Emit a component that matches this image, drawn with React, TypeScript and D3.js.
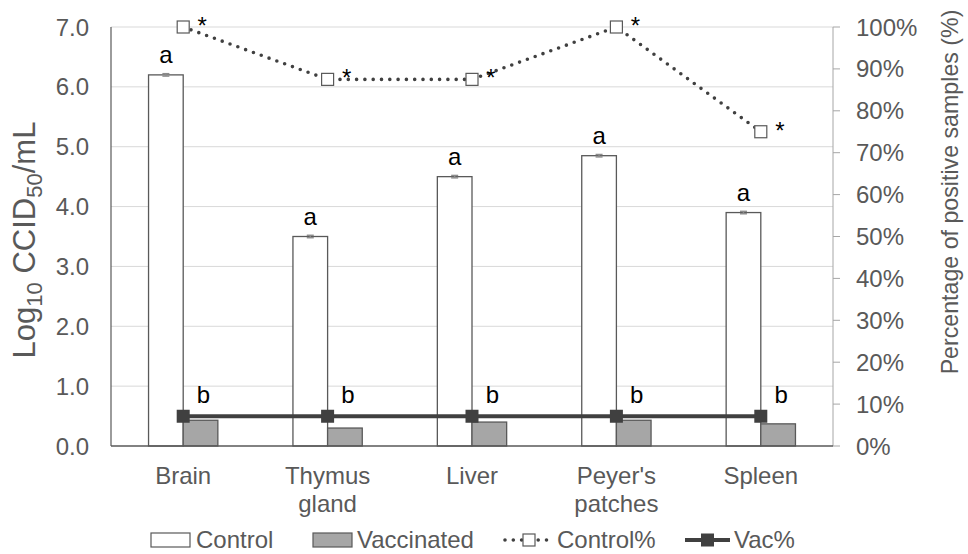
import React from "react";
import * as d3 from "d3";

const categories: string[][] = [["Brain"], ["Thymus", "gland"], ["Liver"], ["Peyer's", "patches"], ["Spleen"]];
const controlValues = [6.2, 3.5, 4.5, 4.85, 3.9];
const controlErrors = [0.02, 0.02, 0.02, 0.02, 0.02];
const vaccinatedValues = [0.43, 0.3, 0.4, 0.43, 0.37];
const controlPct = [100, 87.5, 87.5, 100, 75];
const vacPct = [7.1, 7.1, 7.1, 7.1, 7.1];
const leftTicks = [0, 1, 2, 3, 4, 5, 6, 7];
const rightTicks = [0, 10, 20, 30, 40, 50, 60, 70, 80, 90, 100];
const controlLetters = ["a", "a", "a", "a", "a"];
const vacLetters = ["b", "b", "b", "b", "b"];
const pctMarks = ["*", "*", "*", "*", "*"];
const seriesNames = ["Control", "Vaccinated"];

const W = 968;
const H = 554;
const L = 111;
const R = 833;
const T = 27;
const B = 446;
const FONT = "'Liberation Sans', Arial, sans-serif";
const GRAY = "#595959";

export default function App() {
  const keys = categories.map((c) => c.join(" "));
  const x = d3.scaleBand<string>().domain(keys).range([L, R]).paddingInner(0.52).paddingOuter(0.26);
  const xs = d3.scaleBand<string>().domain(seriesNames).range([0, x.bandwidth()]);
  const y = d3.scaleLinear().domain([0, 7]).range([B, T]);
  const yr = d3.scaleLinear().domain([0, 100]).range([B, T]);
  const cx = (i: number) => (x(keys[i]) as number) + x.bandwidth() / 2;
  const ctrlLine = d3.line<number>().x((_, i) => cx(i)).y((d) => yr(d))(controlPct) as string;
  const vacLine = d3.line<number>().x((_, i) => cx(i)).y((d) => yr(d))(vacPct) as string;
  const bw = xs.bandwidth();

  return (
    <svg width={W} height={H} style={{ position: "absolute", left: 0, top: 0, display: "block", background: "#fff" }} fontFamily={FONT}>
      {/* gridlines */}
      {leftTicks.slice(1).map((t) => (
        <line key={"g" + t} x1={L} x2={R} y1={y(t)} y2={y(t)} stroke="#d9d9d9" strokeWidth={1} />
      ))}
      {/* left tick labels */}
      {leftTicks.map((t) => (
        <text key={"lt" + t} x={89} y={y(t) + 8.5} textAnchor="end" fontSize={24} fill={GRAY}>
          {t.toFixed(1)}
        </text>
      ))}
      {/* right axis */}
      <line x1={R} x2={R} y1={T} y2={B} stroke="#a6a6a6" strokeWidth={1} />
      {rightTicks.map((t) => (
        <g key={"rt" + t}>
          <line x1={R} x2={R + 7} y1={yr(t)} y2={yr(t)} stroke="#a6a6a6" strokeWidth={1} />
          <text x={856} y={yr(t) + 8.5} textAnchor="start" fontSize={24} fill={GRAY}>
            {t + "%"}
          </text>
        </g>
      ))}
      {/* bars */}
      {controlValues.map((v, i) => {
        const x0 = (x(keys[i]) as number) + (xs("Control") as number);
        return (
          <g key={"c" + i}>
            <rect x={x0} y={y(v)} width={bw} height={B - y(v)} fill="#fff" stroke={GRAY} strokeWidth={1.3} />
            <g stroke="#8c8c8c" strokeWidth={1.5}>
              <line x1={x0 + bw / 2} x2={x0 + bw / 2} y1={y(v + controlErrors[i])} y2={y(v - controlErrors[i])} />
              <line x1={x0 + bw / 2 - 3.5} x2={x0 + bw / 2 + 3.5} y1={y(v + controlErrors[i])} y2={y(v + controlErrors[i])} />
              <line x1={x0 + bw / 2 - 3.5} x2={x0 + bw / 2 + 3.5} y1={y(v - controlErrors[i])} y2={y(v - controlErrors[i])} />
            </g>
            <text x={x0 + bw / 2} y={y(v) - 12} textAnchor="middle" fontSize={24} fill="#000">
              {controlLetters[i]}
            </text>
          </g>
        );
      })}
      {vaccinatedValues.map((v, i) => {
        const x0 = (x(keys[i]) as number) + (xs("Vaccinated") as number);
        return (
          <g key={"v" + i}>
            <rect x={x0} y={y(v)} width={bw} height={B - y(v)} fill="#a6a6a6" stroke={GRAY} strokeWidth={1.3} />
            <text x={x0 + bw / 2 + 3} y={y(0.72)} textAnchor="middle" fontSize={24} fill="#000">
              {vacLetters[i]}
            </text>
          </g>
        );
      })}
      {/* axis lines */}
      <line x1={L} x2={L} y1={T} y2={B} stroke={GRAY} strokeWidth={1.2} />
      <line x1={L} x2={R} y1={B} y2={B} stroke={GRAY} strokeWidth={1.3} />
      {/* control % line */}
      <path d={ctrlLine} fill="none" stroke="#404040" strokeWidth={3.6} strokeLinecap="round" strokeDasharray="0 8.3" />
      {controlPct.map((v, i) => (
        <g key={"cp" + i}>
          <rect x={cx(i) - 6} y={yr(v) - 6} width={12} height={12} fill="#fff" stroke={GRAY} strokeWidth={1.2} />
          <text x={cx(i) + 19} y={yr(v) + 7} textAnchor="middle" fontSize={24} fill="#000">
            {pctMarks[i]}
          </text>
        </g>
      ))}
      {/* vac % line */}
      <path d={vacLine} fill="none" stroke="#404040" strokeWidth={4} />
      {vacPct.map((v, i) => (
        <rect key={"vp" + i} x={cx(i) - 6.5} y={yr(v) - 6.5} width={13} height={13} fill="#404040" />
      ))}
      {/* category labels */}
      {categories.map((c, i) => (
        <text key={"cat" + i} x={cx(i)} y={484} textAnchor="middle" fontSize={24} fill={GRAY}>
          {c.map((s, j) => (
            <tspan key={j} x={cx(i)} dy={j === 0 ? 0 : 28}>
              {s}
            </tspan>
          ))}
        </text>
      ))}
      {/* axis titles */}
      <text transform={`translate(35,240) rotate(-90)`} textAnchor="middle" fontSize={31} fill={GRAY}>
        Log<tspan fontSize={22} dy={7}>10</tspan>
        <tspan dy={-7}> CCID</tspan>
        <tspan fontSize={22} dy={7}>50</tspan>
        <tspan dy={-7}>/mL</tspan>
      </text>
      <text transform="translate(958,192) rotate(-90)" textAnchor="middle" fontSize={23.2} fill={GRAY}>
        Percentage of positive samples (%)
      </text>
      {/* legend */}
      <g fontSize={24} fill={GRAY}>
        <rect x={151} y={533} width={39} height={14} fill="#fff" stroke={GRAY} strokeWidth={1.2} />
        <text x={196} y={548}>Control</text>
        <rect x={313} y={533} width={39} height={14} fill="#a6a6a6" stroke={GRAY} strokeWidth={1.2} />
        <text x={357} y={548}>Vaccinated</text>
        <line x1={505} x2={551} y1={540} y2={540} stroke="#404040" strokeWidth={3.6} strokeLinecap="round" strokeDasharray="0 8.3" />
        <rect x={523} y={534} width={12} height={12} fill="#fff" stroke={GRAY} strokeWidth={1.2} />
        <text x={557} y={548}>Control%</text>
        <line x1={685} x2={730} y1={540} y2={540} stroke="#404040" strokeWidth={4} />
        <rect x={701} y={533.5} width={13} height={13} fill="#404040" />
        <text x={734} y={548}>Vac%</text>
      </g>
    </svg>
  );
}
